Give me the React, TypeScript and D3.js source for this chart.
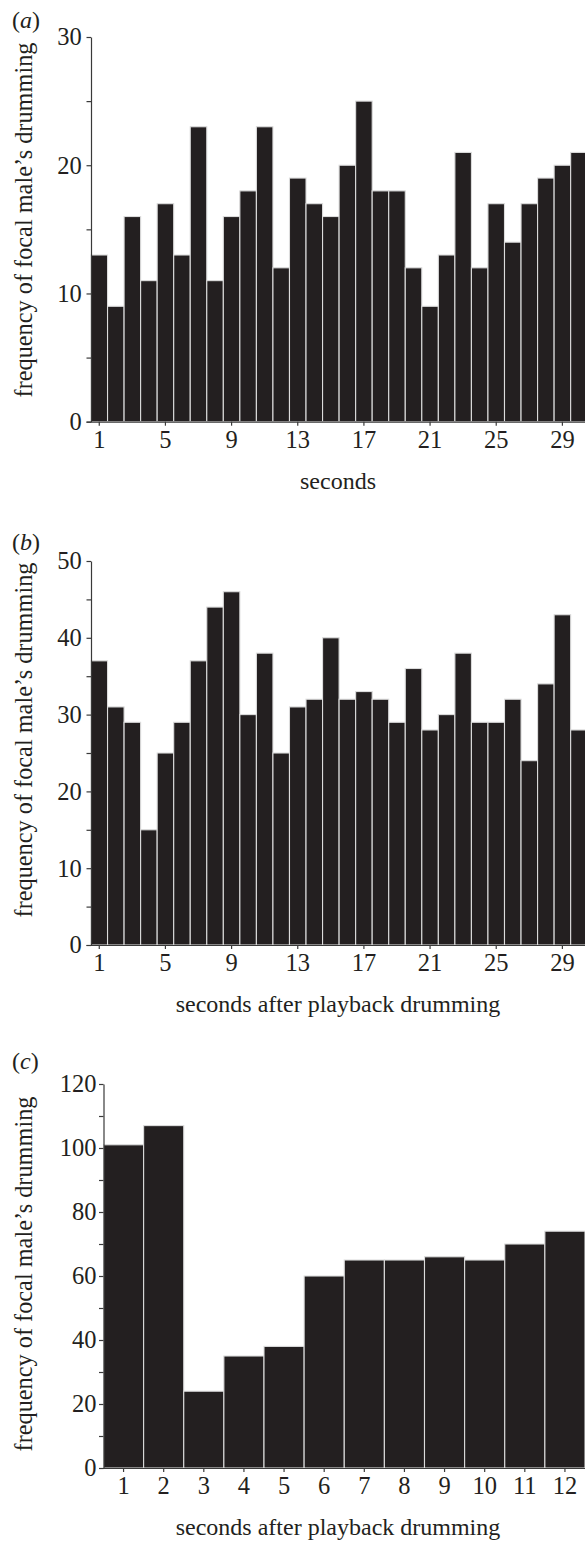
import React, { useEffect, useRef } from 'react';
import * as d3 from 'd3';

// panel (a): seconds
const secondsA = [1, 2, 3, 4, 5, 6, 7, 8, 9, 10, 11, 12, 13, 14, 15, 16, 17, 18, 19, 20, 21, 22, 23, 24, 25, 26, 27, 28, 29, 30];
const drummingA = [13, 9, 16, 11, 17, 13, 23, 11, 16, 18, 23, 12, 19, 17, 16, 20, 25, 18, 18, 12, 9, 13, 21, 12, 17, 14, 17, 19, 20, 21];
const xTicksA = [1, 5, 9, 13, 17, 21, 25, 29];
const yMajorA = [0, 10, 20, 30];
const yMinorA = [5, 15, 25];

// panel (b): seconds after playback drumming
const secondsB = [1, 2, 3, 4, 5, 6, 7, 8, 9, 10, 11, 12, 13, 14, 15, 16, 17, 18, 19, 20, 21, 22, 23, 24, 25, 26, 27, 28, 29, 30];
const drummingB = [37, 31, 29, 15, 25, 29, 37, 44, 46, 30, 38, 25, 31, 32, 40, 32, 33, 32, 29, 36, 28, 30, 38, 29, 29, 32, 24, 34, 43, 28];
const xTicksB = [1, 5, 9, 13, 17, 21, 25, 29];
const yMajorB = [0, 10, 20, 30, 40, 50];
const yMinorB = [5, 15, 25, 35, 45];

// panel (c): seconds after playback drumming
const secondsC = [1, 2, 3, 4, 5, 6, 7, 8, 9, 10, 11, 12];
const drummingC = [101, 107, 24, 35, 38, 60, 65, 65, 66, 65, 70, 74];
const xTicksC = [1, 2, 3, 4, 5, 6, 7, 8, 9, 10, 11, 12];
const yMajorC = [0, 20, 40, 60, 80, 100, 120];
const yMinorC = [10, 30, 50, 70, 90, 110];

const yLabel = 'frequency of focal male\u2019s drumming';
const INK = '#231f20';
const FONT = '"Liberation Serif", "Times New Roman", serif';

const panels = [
  {
    tag: 'a', cats: secondsA, values: drummingA, xTicks: xTicksA, yMajor: yMajorA, yMinor: yMinorA,
    xLabel: 'seconds', left: 91, right: 587.2, top: 37, bottom: 421.7,
    tagY: 28, labelCy: 220, tickPad: 4.8,
  },
  {
    tag: 'b', cats: secondsB, values: drummingB, xTicks: xTicksB, yMajor: yMajorB, yMinor: yMinorB,
    xLabel: 'seconds after playback drumming', left: 91, right: 587.2, top: 561, bottom: 945,
    tagY: 550, labelCy: 740, tickPad: 4.8,
  },
  {
    tag: 'c', cats: secondsC, values: drummingC, xTicks: xTicksC, yMajor: yMajorC, yMinor: yMinorC,
    xLabel: 'seconds after playback drumming', left: 103.5, right: 585, top: 1084, bottom: 1468,
    tagY: 1069, labelCy: 1274, tickPad: 2.5,
  },
];

const App = () => {
  const svgRef = useRef(null);

  useEffect(() => {
    const svg = d3.select(svgRef.current);
    svg.selectAll('*').remove();

    panels.forEach(p => {
      const g = svg.append('g');
      const yMax = d3.max(p.yMajor);

      const x = d3.scaleBand()
        .domain(p.cats)
        .range([p.left, p.right])
        .padding(0);

      const y = d3.scaleLinear()
        .domain([0, yMax])
        .range([p.bottom, p.top]);

      g.selectAll('.bar')
        .data(p.values)
        .enter()
        .append('rect')
        .attr('class', 'bar')
        .attr('x', (d, i) => x(p.cats[i]))
        .attr('y', d => y(d))
        .attr('width', x.bandwidth())
        .attr('height', d => y(0) - y(d))
        .style('fill', INK)
        .style('stroke', '#dcdcdc')
        .style('stroke-width', 1.1);

      // y axis, major + minor ticks
      const yAxis = g.append('g')
        .attr('transform', `translate(${p.left},0)`)
        .call(d3.axisLeft(y)
          .tickValues(p.yMajor.concat(p.yMinor))
          .tickSize(4.5)
          .tickSizeOuter(0)
          .tickPadding(p.tickPad)
          .tickFormat(d => (p.yMajor.includes(d) ? String(d) : '')));

      // x axis
      const xAxis = g.append('g')
        .attr('transform', `translate(0,${p.bottom})`)
        .call(d3.axisBottom(x)
          .tickValues(p.xTicks)
          .tickSize(4)
          .tickSizeOuter(0)
          .tickPadding(5));
      xAxis.select('.domain').remove();
      xAxis.append('line')
        .attr('x1', p.left - 4.5)
        .attr('x2', 585)
        .attr('y1', 0.5)
        .attr('y2', 0.5);

      [yAxis, xAxis].forEach(ax => {
        ax.selectAll('path, line')
          .style('stroke', '#3a3a3a')
          .style('stroke-width', 1.2);
        ax.selectAll('text')
          .style('font-family', FONT)
          .style('font-size', '24.5px')
          .style('fill', INK);
      });

      // axis titles
      g.append('text')
        .attr('x', 338)
        .attr('y', p.bottom + 67)
        .attr('text-anchor', 'middle')
        .style('font-family', FONT)
        .style('font-size', '24px')
        .style('fill', INK)
        .text(p.xLabel);

      g.append('text')
        .attr('transform', `translate(31.5,${p.labelCy}) rotate(-90)`)
        .attr('text-anchor', 'middle')
        .style('font-family', FONT)
        .style('font-size', '24.3px')
        .style('fill', INK)
        .text(yLabel);

      // panel tag (a) / (b) / (c)
      const tag = g.append('text')
        .attr('x', 12)
        .attr('y', p.tagY)
        .style('font-family', FONT)
        .style('font-size', '24px')
        .style('fill', INK);
      tag.append('tspan').text('(');
      tag.append('tspan').style('font-style', 'italic').text(p.tag);
      tag.append('tspan').text(')');
    });
  }, []);

  return (
    <svg
      ref={svgRef}
      width={585}
      height={1543}
      style={{ position: 'absolute', left: 0, top: 0, background: '#fff' }}
    ></svg>
  );
};

export default App;
